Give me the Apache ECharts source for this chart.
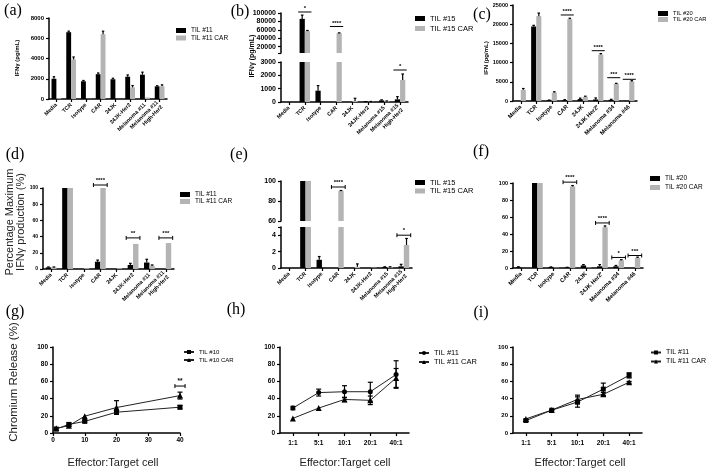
<!DOCTYPE html>
<html><head><meta charset="utf-8">
<script src="https://cdn.jsdelivr.net/npm/echarts@6/dist/echarts.min.js"></script>
<style>html,body{margin:0;padding:0;background:#fff}#c{width:712px;height:472px}</style>
</head><body><div id="c"></div>
<script>
// ---------- DATA ----------
const catsA = ['Media','TCR','Isotype','CAR','24JK','24JK-Her2','Melanoma #11','Melanoma #11\nHigh-Her2'];
const catsB = ['Media','TCR','Isotype','CAR','24JK','24JK-Her2','Melanoma #15','Melanoma #15\nHigh-Her2'];
const catsC = ['Media','TCR','Isotype','CAR','24JK','24JK Her2\u207A','Melanoma #34','Melanoma #46'];
const ratioCats = ['1:1','5:1','10:1','20:1','40:1'];
const ratioG = [1,5,10,20,40];

// (a) IFNγ pg/mL, TIL #11
const a_til    = [2000,6600,1750,2450,1950,2200,2400,1250];
const a_tilErr = [200,100,80,120,100,180,250,60];
const a_car    = [80,3900,20,6400,0,1150,150,1250];
const a_carErr = [0,250,0,300,0,180,0,150];
// (b) IFNγ pg/mL, TIL #15
const b_til    = [0,86000,850,0,0,20,120,200];
const b_tilErr = [0,9000,380,0,0,10,40,200];
const b_car    = [0,57000,0,52000,80,30,60,1650];
const b_carErr = [0,1500,0,800,200,10,20,450];
// (c) IFN pg/mL, TIL #20
const c_til    = [50,19400,150,200,500,400,300,50];
const c_tilErr = [0,300,100,150,250,400,150,0];
const c_car    = [2900,22100,2200,21300,1100,12100,4500,5100];
const c_carErr = [350,800,200,250,150,250,100,200];
// (d) % max IFNγ, TIL #11
const d_til    = [2,100,0,9,0,5,8,0];
const d_tilErr = [0.5,0,0,2,0,2,4,0];
const d_car    = [2,100,1,100,1,31,4,32];
const d_carErr = [0.5,0,0,0,0,0,1,0];
// (e) % max IFNγ, TIL #15
const e_til    = [0,100,1,0,0,0,0.1,0.2];
const e_tilErr = [0,0,0.4,0,0,0,0.05,0.25];
const e_car    = [0,100,0,90,0.15,0.05,0.1,2.8];
const e_carErr = [0,0,0,0.5,0.35,0,0.05,0.8];
// (f) % max IFNγ, TIL #20
const f_til    = [1,100,1,0.5,3,2,2,0];
const f_tilErr = [0.5,0,0.3,0.3,1,2,1,0];
const f_car    = [0,100,0.5,96,0.5,48,9,12];
const f_carErr = [0,0,0,1,0,1.5,0.8,0.8];
// (g) chromium release, TIL #10
const g_til    = [4.6,10,13.5,24.2,30];
const g_tilErr = [0,2,1,1.5,2];
const g_car    = [5.4,8.5,19.6,29.6,43.5];
const g_carErr = [0,1,0,8,4];
// (h) chromium release, TIL #11
const h_til    = [29,47,48,48,68];
const h_tilErr = [2,4,7,11,16];
const h_car    = [17,29,39,38,64];
const h_carErr = [0,0,2.5,5,11];
// (i) chromium release, TIL #11
const i_til    = [14.5,26.5,36,51,67];
const i_tilErr = [1,0.5,6,7,3];
const i_car    = [16.4,26.7,39,45,59];
const i_carErr = [0,0,5,2,1];

// tick label arrays
const bUpperLabels = [20000,40000,60000,80000,100000];
const eLowerLabels = [0,2,4];

// significance annotations: [category, y, text, segment]
const sigB = [[1,102400,'*',1],[3,68000,'****',1],[7,2400,'*',0]];
const sigC = [[3,22400,'****'],[5,13100,'****'],[6,6070,'***'],[7,5650,'****']];
const sigD = [[3,103.7,'****'],[5,38.4,'**'],[7,38.4,'***']];
const sigE = [[3,94,'****',1],[7,4.0,'*',0]];
const sigF = [[3,101,'****'],[5,53,'****'],[6,12.4,'*'],[7,14.7,'***']];
const sigG = [[40,54.6,'**']];

// ---------- BUILD ----------
const FONT = '"Liberation Sans", Arial, sans-serif';
const BLACK = '#000', GRAY = '#b4b4b4';
const option = {animation:false, grid:[], xAxis:[], yAxis:[], series:[], legend:[], graphic:[]};
let uid = 0;

function addGrid(r){ option.grid.push(Object.assign({outerBoundsMode:'none', containLabel:false}, r)); return option.grid.length-1; }

function catAxis(gi, cats, fs, show){
  option.xAxis.push({type:'category', gridIndex:gi, data:cats, show:show,
    axisLine:{show:true,onZero:false,lineStyle:{color:'#000',width:1.5}},
    axisTick:{show:true,alignWithLabel:true,length:3,lineStyle:{color:'#000',width:1.2}},
    axisLabel:{rotate:fs.rot===undefined?45:fs.rot, interval:0, fontSize:fs.size, fontWeight:'bold', color:'#000', margin:fs.margin||5, fontFamily:FONT, lineHeight:fs.size+1},
    splitLine:{show:false}});
  return option.xAxis.length-1;
}
function valAxis(gi, o, isX){
  const ax = {type:'value', gridIndex:gi, min:o.min, max:o.max,
    axisLine:{show:true,onZero:false,lineStyle:{color:'#000',width:1.5}},
    axisTick:{show:true,length:3,lineStyle:{color:'#000',width:1.2}},
    axisLabel:{fontSize:o.fs, fontWeight:'bold', color:'#000', margin:isX?4:5, fontFamily:FONT, formatter:v=>String(v), showMinLabel:true, showMaxLabel:true},
    splitLine:{show:false}};
  if(o.interval!==undefined) ax.interval = o.interval;
  if(o.ticks){ ax.axisTick.customValues = o.ticks; ax.axisLabel.customValues = o.labels; }
  (isX?option.xAxis:option.yAxis).push(ax);
  return (isX?option.xAxis:option.yAxis).length-1;
}
function errBarCustom(xi, yi, data, side){
  return {type:'custom', xAxisIndex:xi, yAxisIndex:yi, data:data, silent:true, z:5, clip:false,
    renderItem:(params, api)=>{
      const i=api.value(0), v=api.value(1), e=api.value(2);
      const bw = api.size([1,0])[0]*0.33;
      const p0 = api.coord([i,v]), p1 = api.coord([i,v+e]);
      const x = p0[0] + side*bw/2, cap = bw*0.5;
      return {type:'group', children:[
        {type:'line', shape:{x1:x,y1:p0[1],x2:x,y2:p1[1]}, style:{stroke:'#000',lineWidth:1.2}},
        {type:'line', shape:{x1:x-cap/2,y1:p1[1],x2:x+cap/2,y2:p1[1]}, style:{stroke:'#000',lineWidth:1.2}}
      ]};
    }};
}
function bracketCustom(xi, yi, items, ends, fs, valueX){
  return {type:'custom', xAxisIndex:xi, yAxisIndex:yi, data:items.map(d=>[d[0],d[1]]), silent:true, z:6, clip:false,
    renderItem:(params, api)=>{
      const c = api.coord([api.value(0), api.value(1)]);
      const hw = valueX ? Math.abs(api.size([valueX,0])[0]) : api.size([1,0])[0]*0.42;
      const ch = [{type:'line', shape:{x1:c[0]-hw,y1:c[1],x2:c[0]+hw,y2:c[1]}, style:{stroke:'#000',lineWidth:1}}];
      if(ends){
        ch.push({type:'line', shape:{x1:c[0]-hw,y1:c[1]-2,x2:c[0]-hw,y2:c[1]+2}, style:{stroke:'#000',lineWidth:1}});
        ch.push({type:'line', shape:{x1:c[0]+hw,y1:c[1]-2,x2:c[0]+hw,y2:c[1]+2}, style:{stroke:'#000',lineWidth:1}});
      }
      ch.push({type:'text', x:c[0], y:c[1]+ (ends?-1.5:-0.5), style:{text:items[params.dataIndex][2], textAlign:'center', textVerticalAlign:'bottom', font:'bold '+fs+'px '+FONT, fill:'#000'}});
      return {type:'group', children:ch};
    }};
}
function addLegend(names, l, isLine){
  const lg = {data:names, left:l.left, top:l.top, orient:'vertical', itemWidth:10, itemHeight:5, itemGap:l.gap||0,
    padding:0, selectedMode:false, textStyle:{fontSize:l.fs, fontFamily:FONT, color:'#000'}};
  if(!isLine) lg.icon = 'rect';
  option.legend.push(lg);
}
function barPanel(P){
  const broken = P.segs.length>1;
  P.segs.forEach((s,k)=>{
    const gi = addGrid(s.grid);
    const xi = catAxis(gi, P.cats, {size:P.catFs}, k===0);
    const yi = valAxis(gi, s);
    [[P.til,P.tilErr,BLACK,P.names[0],-1],[P.car,P.carErr,GRAY,P.names[1],1]].forEach(([vals,errs,col,name,side])=>{
      if(broken && k>0){
        // upper segment of a broken axis: bars start at the segment's minimum
        const st = 'st'+(uid++);
        option.series.push({type:'bar', xAxisIndex:xi, yAxisIndex:yi, stack:st,
          data: vals.map(v=> v>s.min ? s.min : '-'), barWidth:'33%', barGap:'0%', itemStyle:{color:'rgba(0,0,0,0)'}, silent:true});
        option.series.push({type:'bar', name, xAxisIndex:xi, yAxisIndex:yi, stack:st,
          data: vals.map(v=> v>s.min ? v - s.min : '-'), barWidth:'33%', barGap:'0%', itemStyle:{color:col}, silent:true});
      } else {
        option.series.push({type:'bar', name, xAxisIndex:xi, yAxisIndex:yi,
          data: vals.map(v=> v>s.min ? Math.min(v, s.max) : '-'), barWidth:'33%', barGap:'0%', itemStyle:{color:col}, clip:true, silent:true});
      }
      const ed = vals.map((v,i)=>[i,v,errs[i]]).filter(d=> d[2]>0 && (!broken || (k===0 ? d[1]+d[2] <= s.max : d[1] >= s.min)));
      option.series.push(errBarCustom(xi, yi, ed, side));
    });
    const sig = (P.sig||[]).filter(d=> !broken || d[3]===k);
    if(sig.length) option.series.push(bracketCustom(xi, yi, sig, P.sigEnds, P.sigFs||6));
  });
  addLegend(P.names, P.legend, false);
}
function symErr(xi, yi, data){
  return {type:'custom', xAxisIndex:xi, yAxisIndex:yi, data:data, silent:true, z:4, clip:false,
    renderItem:(params, api)=>{
      const x=api.value(0), y=api.value(1), e=api.value(2);
      const a = api.coord([x,y-e]), b = api.coord([x,y+e]);
      return {type:'group', children:[
        {type:'line', shape:{x1:a[0],y1:a[1],x2:b[0],y2:b[1]}, style:{stroke:'#000',lineWidth:1.2}},
        {type:'line', shape:{x1:a[0]-2.5,y1:a[1],x2:a[0]+2.5,y2:a[1]}, style:{stroke:'#000',lineWidth:1.2}},
        {type:'line', shape:{x1:b[0]-2.5,y1:b[1],x2:b[0]+2.5,y2:b[1]}, style:{stroke:'#000',lineWidth:1.2}}
      ]};
    }};
}
function linePanel(P){
  const gi = addGrid(P.grid);
  let xi;
  if(P.xValue) xi = valAxis(gi, {min:0,max:40,interval:10,fs:6.5}, true);
  else xi = catAxis(gi, P.cats, {size:6.5, rot:0, margin:6}, true);
  const yi = valAxis(gi, {min:0,max:100,interval:20,fs:P.yFs||6.5});
  const sets = [[P.til,P.tilErr,P.names[0],P.sym[0]],[P.car,P.carErr,P.names[1],P.sym[1]]];
  sets.forEach(([vals,errs,name,sym])=>{
    const data = vals.map((v,i)=> P.xValue ? [P.xs[i], v] : v);
    option.series.push({type:'line', name, xAxisIndex:xi, yAxisIndex:yi, data, symbol:sym, symbolSize:sym==='triangle'?6:5,
      showAllSymbol:true, lineStyle:{color:'#222',width:1}, itemStyle:{color:'#000'}, silent:true, z:3});
    const ed = vals.map((v,i)=>[P.xValue?P.xs[i]:i, v, errs[i]]).filter(d=>d[2]>0);
    option.series.push(symErr(xi, yi, ed));
  });
  if(P.sig) option.series.push(bracketCustom(xi, yi, P.sig, true, 6.5, 1.6));
  addLegend(P.names, P.legend, true);
}

barPanel({cats:catsA, til:a_til, tilErr:a_tilErr, car:a_car, carErr:a_carErr, names:['TIL #11','TIL #11 CAR'], catFs:5.5,
  segs:[{grid:{left:49,top:18,width:118,height:81}, min:0,max:8000,interval:2000, fs:6}],
  legend:{left:176, top:27, fs:6.5, gap:0.5}});
barPanel({cats:catsB, til:b_til, tilErr:b_tilErr, car:b_car, carErr:b_carErr, names:['TIL #15','TIL #15 CAR'], catFs:5.5,
  segs:[{grid:{left:281,top:62,width:127,height:40}, min:0,max:3000,interval:1000, fs:7},
        {grid:{left:281,top:13,width:127,height:40}, min:5000,max:100000, ticks:[5000].concat(bUpperLabels), labels:bUpperLabels, fs:7}],
  sig:sigB, sigEnds:false, legend:{left:415, top:14.5, fs:7.5, gap:2}});
barPanel({cats:catsC, til:c_til, tilErr:c_tilErr, car:c_car, carErr:c_carErr, names:['TIL #20','TIL #20 CAR'], catFs:5.8,
  segs:[{grid:{left:513,top:5,width:124,height:96}, min:0,max:25000,interval:5000, fs:5.5}],
  sig:sigC, sigEnds:false, legend:{left:658, top:10.5, fs:5.8, gap:0}});
barPanel({cats:catsA, til:d_til, tilErr:d_tilErr, car:d_car, carErr:d_carErr, names:['TIL #11 ','TIL #11 CAR '], catFs:5.5,
  segs:[{grid:{left:43,top:188,width:131,height:81}, min:0,max:100,interval:20, fs:5}],
  sig:sigD, sigEnds:true, legend:{left:180, top:191, fs:6.5, gap:0}});
barPanel({cats:catsB, til:e_til, tilErr:e_tilErr, car:e_car, carErr:e_carErr, names:['TIL #15 ','TIL #15 CAR '], catFs:5.5,
  segs:[{grid:{left:281,top:227,width:131,height:41}, min:0,max:5, ticks:[0,2,4,5], labels:eLowerLabels, fs:7},
        {grid:{left:281,top:181,width:131,height:40}, min:60,max:100,interval:20, fs:7}],
  sig:sigE, sigEnds:true, legend:{left:415, top:178.5, fs:7.5, gap:0.5}});
barPanel({cats:catsC, til:f_til, tilErr:f_tilErr, car:f_car, carErr:f_carErr, names:['TIL #20 ','TIL #20 CAR '], catFs:5.8,
  segs:[{grid:{left:513,top:183,width:130,height:85}, min:0,max:100,interval:20, fs:5.5}],
  sig:sigF, sigEnds:true, legend:{left:650, top:175, fs:6.5, gap:2}});

linePanel({xValue:true, xs:ratioG, grid:{left:53,top:347,width:127,height:86}, til:g_til, tilErr:g_tilErr, car:g_car, carErr:g_carErr,
  names:['TIL #10','TIL #10 CAR'], sym:['rect','triangle'], sig:sigG, yFs:6.5, legend:{left:183, top:349, fs:6, gap:2}});
linePanel({cats:ratioCats, grid:{left:280,top:347,width:129,height:86}, til:h_til, tilErr:h_tilErr, car:h_car, carErr:h_carErr,
  names:['TIL #11  ','TIL #11 CAR  '], sym:['circle','triangle'], yFs:6.5, legend:{left:418, top:349, fs:7.5, gap:1}});
linePanel({cats:ratioCats, grid:{left:513,top:347,width:129,height:86}, til:i_til, tilErr:i_tilErr, car:i_car, carErr:i_carErr,
  names:['TIL #11   ','TIL #11 CAR   '], sym:['rect','triangle'], yFs:6, legend:{left:650, top:349, fs:7, gap:2}});

// ---------- TEXT ----------
function txt(t, x, y, font, rot, fill){
  option.graphic.push({type:'text', x, y, rotation: rot?Math.PI/2:0, silent:true,
    style:{text:t, font, fill:fill||'#000', textAlign:'center', textVerticalAlign:'middle'}});
}
const SERIF = '16px "Liberation Serif", "Times New Roman", serif';
[['(a)',13,11],['(b)',240,12],['(c)',482,15],['(d)',15,155],['(e)',239,155],['(f)',481,152],['(g)',15,312],['(h)',236,310],['(i)',481,313]]
  .forEach(d=>txt(d[0], d[1], d[2], SERIF, false));
txt('IFN\u03B3 (pg/mL)', 17, 58, 'bold 6px '+FONT, true);
txt('IFN\u03B3 (pg/mL)', 252, 56, 'bold 7px '+FONT, true);
txt('IFN (pg/mL)', 486, 58, 'bold 6px '+FONT, true);
txt('Percentage Maximum\nIFN\u03B3 production (%)', 15, 222, '11px '+FONT, true, '#222');
txt('Chromium Release (%)', 14, 382, '11.5px '+FONT, true, '#222');
[113,345,580].forEach(x=>txt('Effector:Target cell', x, 463, '11px '+FONT, false, '#222'));

const chart = echarts.init(document.getElementById('c'), null, {renderer:'canvas'});
chart.setOption(option);
</script>
</body></html>
